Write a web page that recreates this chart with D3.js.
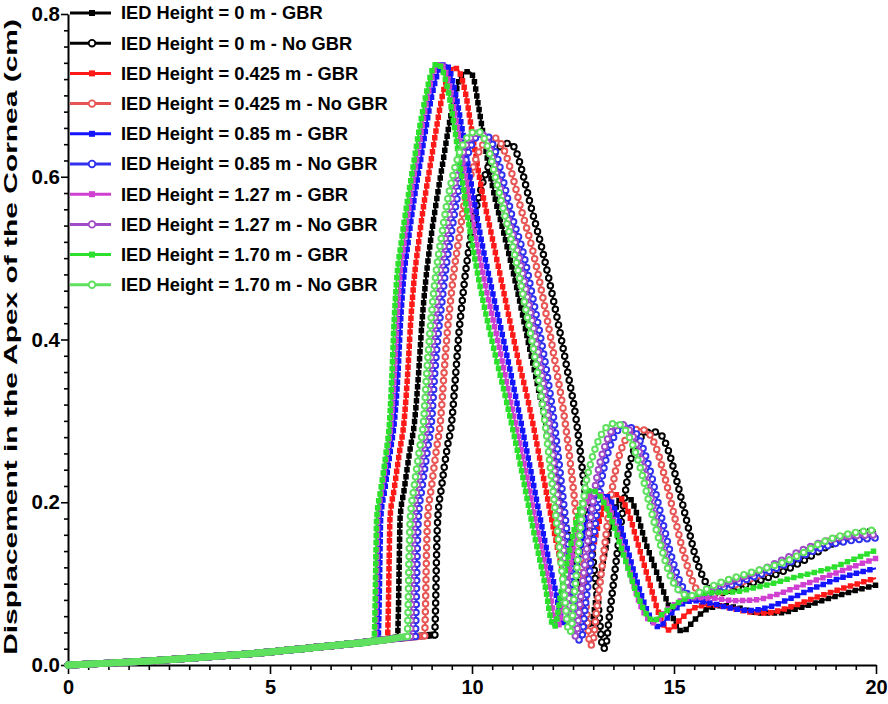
<!DOCTYPE html>
<html>
<head>
<meta charset="utf-8">
<script src="https://cdn.jsdelivr.net/npm/d3@7"></script>
<style>
  body { margin: 0; background: #fff; }
  text { font-family: "Liberation Sans", Arial, sans-serif; font-weight: bold; }
</style>
</head>
<body>
<div id="chart"></div>
<script>
// Chart data (time in ms, displacement in cm)

var xTicks = [0, 5, 10, 15, 20];
var yTicks = [0.0, 0.2, 0.4, 0.6, 0.8];

var legendLabels = [
  "IED Height = 0 m - GBR",
  "IED Height = 0 m - No GBR",
  "IED Height = 0.425 m - GBR",
  "IED Height = 0.425 m - No GBR",
  "IED Height = 0.85 m - GBR",
  "IED Height = 0.85 m - No GBR",
  "IED Height = 1.27 m - GBR",
  "IED Height = 1.27 m - No GBR",
  "IED Height = 1.70 m - GBR",
  "IED Height = 1.70 m - No GBR"
];

// shared pre-arrival trace (all ten curves overlap here)
var preArrival = [[0, 0], [1, 0.0023], [2, 0.005], [3, 0.0083], [4, 0.012], [5, 0.016], [6, 0.021], [7, 0.026]];

var gbr0m = [[7.8, 0.031], [8.16, 0.034], [8.18, 0.07], [8.2, 0.13], [8.22, 0.18], [8.32, 0.215], [8.45, 0.26], [8.58, 0.3], [8.68, 0.36], [8.76, 0.42], [8.85, 0.47], [8.97, 0.52], [9.12, 0.57], [9.27, 0.615], [9.42, 0.66], [9.56, 0.695], [9.68, 0.718], [9.8, 0.728], [9.92, 0.729], [10.02, 0.724], [10.15, 0.69], [10.3, 0.645], [10.5, 0.59], [10.84, 0.52], [11.1, 0.465], [11.4, 0.395], [11.76, 0.312], [12.1, 0.23], [12.4, 0.155], [12.7, 0.09], [12.88, 0.05], [12.93, 0.048], [13.1, 0.09], [13.3, 0.14], [13.5, 0.183], [13.65, 0.203], [13.75, 0.206], [13.9, 0.205], [14.05, 0.19], [14.3, 0.15], [14.6, 0.11], [14.85, 0.075], [15.05, 0.05], [15.2, 0.041], [15.5, 0.055], [15.8, 0.068], [16.2, 0.073], [16.6, 0.07], [17.1, 0.064], [17.6, 0.064], [18.1, 0.07], [18.6, 0.078], [19.1, 0.086], [19.6, 0.093], [20, 0.098]];

var noGbr0m = [[8, 0.032], [8.8, 0.036], [9.08, 0.037], [9.1, 0.075], [9.12, 0.13], [9.15, 0.178], [9.25, 0.22], [9.38, 0.265], [9.5, 0.3], [9.6, 0.36], [9.68, 0.41], [9.76, 0.448], [9.86, 0.49], [9.97, 0.525], [10.1, 0.56], [10.25, 0.59], [10.4, 0.612], [10.55, 0.628], [10.7, 0.637], [10.85, 0.641], [10.98, 0.64], [11.1, 0.63], [11.25, 0.605], [11.45, 0.565], [11.74, 0.51], [12.05, 0.44], [12.36, 0.362], [12.58, 0.301], [12.78, 0.22], [12.95, 0.15], [13.12, 0.075], [13.25, 0.02], [13.3, 0.022], [13.4, 0.06], [13.5, 0.1], [13.6, 0.14], [13.76, 0.2], [13.9, 0.245], [14.05, 0.27], [14.25, 0.283], [14.45, 0.287], [14.65, 0.284], [14.85, 0.265], [15.05, 0.23], [15.3, 0.18], [15.55, 0.13], [15.8, 0.1], [16.0, 0.088], [16.3, 0.09], [16.7, 0.097], [17.2, 0.105], [17.7, 0.115], [18.2, 0.128], [18.7, 0.143], [19.2, 0.155], [19.6, 0.162], [20, 0.165]];

var gbr0425m = [[7.5, 0.029], [7.91, 0.032], [7.93, 0.07], [7.95, 0.13], [7.97, 0.18], [8.07, 0.215], [8.2, 0.26], [8.32, 0.3], [8.41, 0.36], [8.48, 0.42], [8.56, 0.47], [8.68, 0.52], [8.82, 0.57], [8.97, 0.615], [9.12, 0.66], [9.26, 0.698], [9.4, 0.723], [9.52, 0.734], [9.62, 0.733], [9.72, 0.725], [9.85, 0.7], [10.0, 0.655], [10.2, 0.595], [10.5, 0.525], [10.8, 0.455], [11.1, 0.385], [11.43, 0.315], [11.75, 0.235], [12.05, 0.16], [12.35, 0.09], [12.55, 0.05], [12.6, 0.048], [12.78, 0.09], [12.98, 0.14], [13.18, 0.182], [13.35, 0.204], [13.5, 0.21], [13.65, 0.207], [13.85, 0.19], [14.1, 0.15], [14.4, 0.1], [14.65, 0.06], [14.87, 0.043], [15.2, 0.058], [15.5, 0.07], [15.9, 0.074], [16.4, 0.07], [16.9, 0.065], [17.3, 0.064], [17.8, 0.07], [18.3, 0.079], [18.8, 0.088], [19.3, 0.096], [20, 0.107]];

var noGbr0425m = [[8, 0.032], [8.5, 0.034], [8.83, 0.036], [8.85, 0.075], [8.87, 0.13], [8.9, 0.178], [9.0, 0.22], [9.12, 0.265], [9.22, 0.3], [9.31, 0.36], [9.39, 0.41], [9.47, 0.448], [9.57, 0.49], [9.68, 0.525], [9.8, 0.565], [9.95, 0.598], [10.1, 0.622], [10.25, 0.638], [10.4, 0.646], [10.53, 0.648], [10.66, 0.645], [10.8, 0.632], [10.95, 0.61], [11.2, 0.563], [11.5, 0.51], [11.8, 0.44], [12.1, 0.36], [12.3, 0.3], [12.5, 0.22], [12.65, 0.15], [12.82, 0.075], [12.93, 0.024], [12.98, 0.026], [13.08, 0.065], [13.18, 0.105], [13.28, 0.145], [13.42, 0.2], [13.58, 0.245], [13.75, 0.272], [13.95, 0.286], [14.15, 0.29], [14.35, 0.286], [14.55, 0.268], [14.75, 0.235], [15.0, 0.185], [15.25, 0.135], [15.5, 0.098], [15.75, 0.082], [16.0, 0.086], [16.4, 0.096], [16.9, 0.106], [17.4, 0.117], [17.9, 0.13], [18.4, 0.143], [18.9, 0.153], [19.4, 0.159], [20, 0.161]];

var gbr085m = [[7.5, 0.029], [7.68, 0.031], [7.7, 0.07], [7.72, 0.13], [7.74, 0.18], [7.84, 0.215], [7.97, 0.26], [8.08, 0.3], [8.17, 0.36], [8.23, 0.42], [8.3, 0.47], [8.42, 0.52], [8.56, 0.57], [8.71, 0.615], [8.86, 0.66], [9.0, 0.698], [9.13, 0.724], [9.25, 0.737], [9.35, 0.738], [9.45, 0.73], [9.58, 0.705], [9.75, 0.66], [9.95, 0.6], [10.2, 0.53], [10.5, 0.46], [10.8, 0.395], [11.13, 0.318], [11.45, 0.24], [11.75, 0.165], [12.05, 0.095], [12.25, 0.052], [12.3, 0.05], [12.48, 0.09], [12.68, 0.14], [12.88, 0.182], [13.05, 0.203], [13.2, 0.21], [13.35, 0.207], [13.55, 0.19], [13.8, 0.15], [14.1, 0.1], [14.4, 0.06], [14.62, 0.047], [14.9, 0.062], [15.2, 0.075], [15.5, 0.079], [15.9, 0.076], [16.4, 0.07], [16.9, 0.067], [17.4, 0.072], [17.9, 0.082], [18.4, 0.093], [18.9, 0.103], [19.4, 0.111], [20, 0.119]];

var noGbr085m = [[8, 0.032], [8.4, 0.034], [8.6, 0.035], [8.62, 0.075], [8.64, 0.13], [8.67, 0.178], [8.77, 0.22], [8.9, 0.265], [9.0, 0.3], [9.08, 0.36], [9.17, 0.41], [9.26, 0.448], [9.36, 0.49], [9.47, 0.525], [9.6, 0.565], [9.74, 0.6], [9.9, 0.628], [10.05, 0.645], [10.2, 0.652], [10.32, 0.652], [10.45, 0.646], [10.6, 0.628], [10.8, 0.59], [11.0, 0.55], [11.25, 0.51], [11.55, 0.44], [11.85, 0.36], [12.03, 0.3], [12.22, 0.22], [12.38, 0.15], [12.55, 0.075], [12.66, 0.03], [12.71, 0.032], [12.8, 0.07], [12.9, 0.11], [13.0, 0.15], [13.12, 0.2], [13.28, 0.245], [13.45, 0.273], [13.62, 0.289], [13.8, 0.294], [13.98, 0.29], [14.18, 0.273], [14.4, 0.24], [14.65, 0.19], [14.9, 0.14], [15.15, 0.102], [15.4, 0.085], [15.6, 0.083], [15.9, 0.089], [16.4, 0.098], [16.9, 0.107], [17.4, 0.116], [17.9, 0.127], [18.4, 0.139], [18.9, 0.148], [19.4, 0.153], [20, 0.156]];

var gbr127m = [[7.5, 0.029], [7.61, 0.03], [7.63, 0.07], [7.65, 0.13], [7.67, 0.18], [7.77, 0.215], [7.9, 0.26], [8.0, 0.3], [8.08, 0.36], [8.14, 0.42], [8.2, 0.47], [8.32, 0.52], [8.46, 0.57], [8.61, 0.615], [8.76, 0.66], [8.9, 0.698], [9.02, 0.724], [9.13, 0.737], [9.22, 0.739], [9.32, 0.732], [9.45, 0.71], [9.6, 0.67], [9.8, 0.61], [10.05, 0.535], [10.35, 0.462], [10.65, 0.396], [10.95, 0.325], [11.3, 0.245], [11.6, 0.17], [11.9, 0.1], [12.08, 0.05], [12.13, 0.048], [12.3, 0.088], [12.5, 0.138], [12.7, 0.18], [12.88, 0.205], [13.03, 0.213], [13.18, 0.21], [13.38, 0.195], [13.62, 0.16], [13.9, 0.115], [14.2, 0.07], [14.5, 0.052], [14.8, 0.066], [15.1, 0.077], [15.5, 0.083], [16.0, 0.082], [16.5, 0.079], [17.0, 0.08], [17.5, 0.086], [18.0, 0.095], [18.5, 0.104], [19.0, 0.113], [19.5, 0.122], [20, 0.131]];

var noGbr127m = [[8, 0.032], [8.3, 0.034], [8.48, 0.035], [8.5, 0.075], [8.52, 0.13], [8.55, 0.178], [8.65, 0.22], [8.78, 0.265], [8.88, 0.3], [8.96, 0.36], [9.05, 0.41], [9.13, 0.448], [9.23, 0.49], [9.34, 0.525], [9.47, 0.565], [9.61, 0.6], [9.77, 0.628], [9.93, 0.645], [10.08, 0.653], [10.2, 0.654], [10.33, 0.647], [10.48, 0.628], [10.68, 0.59], [10.88, 0.55], [11.12, 0.51], [11.42, 0.44], [11.72, 0.36], [11.9, 0.3], [12.09, 0.22], [12.25, 0.15], [12.42, 0.075], [12.53, 0.035], [12.58, 0.037], [12.67, 0.075], [12.77, 0.115], [12.87, 0.155], [12.99, 0.2], [13.15, 0.245], [13.32, 0.273], [13.48, 0.29], [13.66, 0.296], [13.84, 0.292], [14.04, 0.275], [14.26, 0.242], [14.5, 0.19], [14.75, 0.142], [15.0, 0.104], [15.25, 0.087], [15.45, 0.084], [15.8, 0.091], [16.3, 0.101], [16.8, 0.11], [17.3, 0.12], [17.8, 0.132], [18.3, 0.144], [18.8, 0.153], [19.3, 0.158], [20, 0.16]];

var gbr170m = [[7.4, 0.028], [7.58, 0.03], [7.6, 0.07], [7.62, 0.13], [7.64, 0.18], [7.74, 0.215], [7.87, 0.26], [7.96, 0.3], [8.02, 0.36], [8.07, 0.42], [8.13, 0.47], [8.25, 0.52], [8.4, 0.57], [8.55, 0.615], [8.7, 0.66], [8.85, 0.698], [8.97, 0.724], [9.07, 0.737], [9.16, 0.739], [9.26, 0.732], [9.38, 0.712], [9.52, 0.675], [9.7, 0.615], [9.96, 0.53], [10.2, 0.465], [10.5, 0.397], [10.88, 0.318], [11.2, 0.245], [11.5, 0.17], [11.8, 0.1], [11.99, 0.05], [12.04, 0.047], [12.2, 0.088], [12.4, 0.138], [12.6, 0.18], [12.78, 0.206], [12.93, 0.215], [13.08, 0.212], [13.28, 0.198], [13.5, 0.172], [13.8, 0.128], [14.1, 0.085], [14.35, 0.06], [14.48, 0.054], [14.7, 0.062], [15.0, 0.073], [15.3, 0.082], [15.6, 0.087], [16.0, 0.089], [16.5, 0.09], [17.0, 0.095], [17.5, 0.101], [18.0, 0.108], [18.5, 0.114], [19.0, 0.121], [19.5, 0.131], [20, 0.141]];

var noGbr170m = [[8, 0.032], [8.25, 0.034], [8.4, 0.035], [8.42, 0.075], [8.44, 0.13], [8.47, 0.178], [8.57, 0.22], [8.7, 0.265], [8.8, 0.3], [8.88, 0.36], [8.96, 0.41], [9.03, 0.448], [9.13, 0.49], [9.24, 0.525], [9.37, 0.565], [9.52, 0.6], [9.68, 0.628], [9.84, 0.645], [10.0, 0.654], [10.14, 0.656], [10.27, 0.65], [10.42, 0.632], [10.6, 0.595], [10.8, 0.555], [11.03, 0.51], [11.32, 0.44], [11.62, 0.36], [11.8, 0.3], [11.99, 0.22], [12.15, 0.15], [12.3, 0.08], [12.4, 0.04], [12.45, 0.042], [12.52, 0.08], [12.6, 0.12], [12.68, 0.165], [12.78, 0.21], [12.95, 0.25], [13.15, 0.278], [13.35, 0.293], [13.55, 0.297], [13.74, 0.292], [13.94, 0.275], [14.16, 0.243], [14.42, 0.192], [14.68, 0.145], [14.92, 0.108], [15.15, 0.09], [15.38, 0.085], [15.7, 0.091], [16.08, 0.1], [16.6, 0.109], [17.2, 0.118], [17.7, 0.126], [18.2, 0.138], [18.6, 0.149], [19.0, 0.157], [19.5, 0.163], [20, 0.166]];

var seriesData = [gbr0m, noGbr0m, gbr0425m, noGbr0425m, gbr085m, noGbr085m, gbr127m, noGbr127m, gbr170m, noGbr170m];
var seriesColors = ["#000000", "#000000", "#ff1a1a", "#e85555", "#1414ff", "#3030ee", "#d040d0", "#a04cc8", "#2ee02e", "#5fe05f"];

// SVG setup
var svgWidth = 888;
var svgHeight = 704;

var svg = d3.select("#chart")
  .append("svg")
  .attr("width", svgWidth)
  .attr("height", svgHeight)
  .style("background", "#fff");

var x = d3.scaleLinear().domain([0, 20]).range([68, 876]);
var y = d3.scaleLinear().domain([0, 0.8]).range([665, 14]);

// axes: minor ticks first, then majors with labels
var xMinorTicks = d3.range(1, 40).map(d => d / 2).filter(d => d % 5 !== 0);
var yMinorTicks = d3.range(1, 40).map(d => d / 50).filter(d => Math.round(d * 50) % 10 !== 0);

svg.append("g")
  .attr("transform", "translate(0,665)")
  .call(d3.axisBottom(x).tickValues(xMinorTicks).tickSize(5).tickFormat(""))
  .call(g => g.select(".domain").remove());

svg.append("g")
  .attr("transform", "translate(68,0)")
  .call(d3.axisLeft(y).tickValues(yMinorTicks).tickSize(4).tickFormat(""))
  .call(g => g.select(".domain").remove());

var xAxis = svg.append("g")
  .attr("transform", "translate(0,665)")
  .call(d3.axisBottom(x).tickValues(xTicks).tickSize(9).tickSizeOuter(0).tickPadding(6).tickFormat(d3.format("d")));

var yAxis = svg.append("g")
  .attr("transform", "translate(68,0)")
  .call(d3.axisLeft(y).tickValues(yTicks).tickSize(7).tickSizeOuter(0).tickPadding(1).tickFormat(d3.format(".1f")));

svg.selectAll(".tick line").attr("stroke", "#000").attr("stroke-width", 1.6);
svg.selectAll(".domain").attr("stroke", "#000").attr("stroke-width", 2);
xAxis.selectAll("text").attr("font-size", 20).attr("fill", "#000");
yAxis.selectAll("text").attr("font-size", 20.5).attr("fill", "#000");

// y axis title, stretched along its length like the original
var yTitle = svg.append("text")
  .attr("text-anchor", "middle")
  .attr("font-size", 19)
  .text("Displacement in the Apex of the Cornea (cm)");
var titleLen = yTitle.node().getComputedTextLength();
yTitle.attr("transform", `translate(17,337) rotate(-90) scale(${636 / titleLen},1)`);

// curves
var line = d3.line()
  .x(d => x(d[0]))
  .y(d => y(d[1]))
  .curve(d3.curveMonotoneX);

var plot = svg.append("g");

seriesData.forEach(function(own, i) {
  var data = preArrival.concat(own);
  var color = seriesColors[i];
  var open = i % 2 === 1;
  // split at the arrival of the blast wave
  var k = data.findIndex(d => d[1] > 0.045);
  var early = data.slice(0, k);
  var rest = data.slice(k - 1);
  var g = plot.append("g");

  // dense markers before arrival merge into a band
  g.append("path")
    .attr("d", line(early))
    .attr("fill", "none")
    .attr("stroke", color)
    .attr("stroke-width", 7)
    .attr("stroke-linecap", "round");

  g.append("path")
    .attr("d", line(rest))
    .attr("fill", "none")
    .attr("stroke", color)
    .attr("stroke-width", 2);

  if (open) {
    g.append("path")
      .attr("d", line(rest))
      .attr("fill", "none")
      .attr("stroke", color)
      .attr("stroke-width", 7.5)
      .attr("stroke-linecap", "round")
      .attr("stroke-dasharray", "0 8");
    g.append("path")
      .attr("d", line(rest))
      .attr("fill", "none")
      .attr("stroke", "#fff")
      .attr("stroke-width", 3.6)
      .attr("stroke-linecap", "round")
      .attr("stroke-dasharray", "0 8");
  } else {
    g.append("path")
      .attr("d", line(rest))
      .attr("fill", "none")
      .attr("stroke", color)
      .attr("stroke-width", 5.5)
      .attr("stroke-linecap", "square")
      .attr("stroke-dasharray", "0 7");
  }
});

// legend
var legend = svg.append("g");
legendLabels.forEach(function(label, i) {
  var ly = 13 + i * 30.2;
  var color = seriesColors[i];
  legend.append("line")
    .attr("x1", 70).attr("x2", 111)
    .attr("y1", ly).attr("y2", ly)
    .attr("stroke", color)
    .attr("stroke-width", 3);
  if (i % 2 === 1) {
    legend.append("circle")
      .attr("cx", 92).attr("cy", ly).attr("r", 3.3)
      .attr("fill", "#fff")
      .attr("stroke", color)
      .attr("stroke-width", 1.8);
  } else {
    legend.append("rect")
      .attr("x", 89).attr("y", ly - 3)
      .attr("width", 6).attr("height", 6)
      .attr("fill", color);
  }
  legend.append("text")
    .attr("x", 121)
    .attr("y", ly + 6.3)
    .attr("font-size", 18.3)
    .attr("fill", "#000")
    .text(label);
});
</script>
</body>
</html>
